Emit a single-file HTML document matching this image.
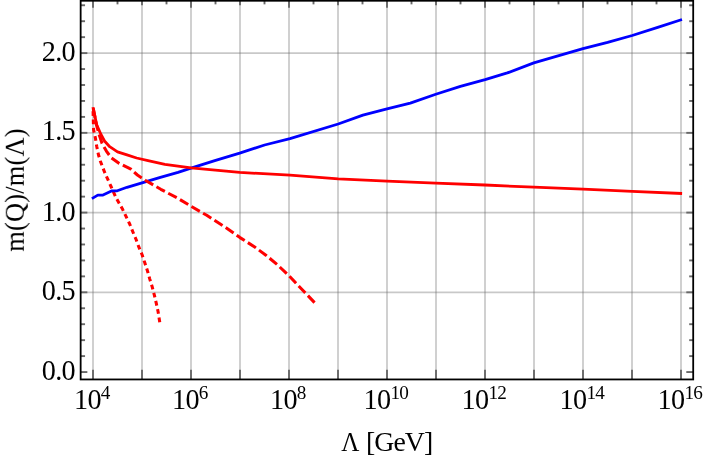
<!DOCTYPE html>
<html><head><meta charset="utf-8"><title>plot</title>
<style>
html,body{margin:0;padding:0;background:#fff;}
body{width:706px;height:461px;overflow:hidden;}
svg{display:block;}
text{font-family:"Liberation Serif",serif;fill:#000;}
</style></head><body>
<svg width="706" height="461" viewBox="0 0 706 461">
<rect width="706" height="461" fill="#fff"/>
<g stroke="#666666" stroke-opacity="0.355" stroke-width="1.7" fill="none">
<line x1="93.00" y1="0.75" x2="93.00" y2="379.45"/>
<line x1="142.00" y1="0.75" x2="142.00" y2="379.45"/>
<line x1="191.00" y1="0.75" x2="191.00" y2="379.45"/>
<line x1="240.00" y1="0.75" x2="240.00" y2="379.45"/>
<line x1="289.00" y1="0.75" x2="289.00" y2="379.45"/>
<line x1="338.00" y1="0.75" x2="338.00" y2="379.45"/>
<line x1="387.00" y1="0.75" x2="387.00" y2="379.45"/>
<line x1="436.00" y1="0.75" x2="436.00" y2="379.45"/>
<line x1="485.00" y1="0.75" x2="485.00" y2="379.45"/>
<line x1="534.00" y1="0.75" x2="534.00" y2="379.45"/>
<line x1="583.00" y1="0.75" x2="583.00" y2="379.45"/>
<line x1="632.00" y1="0.75" x2="632.00" y2="379.45"/>
<line x1="681.00" y1="0.75" x2="681.00" y2="379.45"/>
<line x1="80.65" y1="292.31" x2="693.20" y2="292.31"/>
<line x1="80.65" y1="212.58" x2="693.20" y2="212.58"/>
<line x1="80.65" y1="132.85" x2="693.20" y2="132.85"/>
<line x1="80.65" y1="53.11" x2="693.20" y2="53.11"/>
</g>
<g stroke="#686868" stroke-width="1.9" fill="none">
<line x1="93.00" y1="379.45" x2="93.00" y2="369.85"/>
<line x1="93.00" y1="0.75" x2="93.00" y2="7.75"/>
<line x1="117.50" y1="0.75" x2="117.50" y2="4.35"/>
<line x1="142.00" y1="379.45" x2="142.00" y2="369.85"/>
<line x1="142.00" y1="0.75" x2="142.00" y2="5.15"/>
<line x1="166.50" y1="0.75" x2="166.50" y2="4.35"/>
<line x1="191.00" y1="379.45" x2="191.00" y2="369.85"/>
<line x1="191.00" y1="0.75" x2="191.00" y2="7.75"/>
<line x1="215.50" y1="0.75" x2="215.50" y2="4.35"/>
<line x1="240.00" y1="379.45" x2="240.00" y2="369.85"/>
<line x1="240.00" y1="0.75" x2="240.00" y2="5.15"/>
<line x1="264.50" y1="0.75" x2="264.50" y2="4.35"/>
<line x1="289.00" y1="379.45" x2="289.00" y2="369.85"/>
<line x1="289.00" y1="0.75" x2="289.00" y2="7.75"/>
<line x1="313.50" y1="0.75" x2="313.50" y2="4.35"/>
<line x1="338.00" y1="379.45" x2="338.00" y2="369.85"/>
<line x1="338.00" y1="0.75" x2="338.00" y2="5.15"/>
<line x1="362.50" y1="0.75" x2="362.50" y2="4.35"/>
<line x1="387.00" y1="379.45" x2="387.00" y2="369.85"/>
<line x1="387.00" y1="0.75" x2="387.00" y2="7.75"/>
<line x1="411.50" y1="0.75" x2="411.50" y2="4.35"/>
<line x1="436.00" y1="379.45" x2="436.00" y2="369.85"/>
<line x1="436.00" y1="0.75" x2="436.00" y2="5.15"/>
<line x1="460.50" y1="0.75" x2="460.50" y2="4.35"/>
<line x1="485.00" y1="379.45" x2="485.00" y2="369.85"/>
<line x1="485.00" y1="0.75" x2="485.00" y2="7.75"/>
<line x1="509.50" y1="0.75" x2="509.50" y2="4.35"/>
<line x1="534.00" y1="379.45" x2="534.00" y2="369.85"/>
<line x1="534.00" y1="0.75" x2="534.00" y2="5.15"/>
<line x1="558.50" y1="0.75" x2="558.50" y2="4.35"/>
<line x1="583.00" y1="379.45" x2="583.00" y2="369.85"/>
<line x1="583.00" y1="0.75" x2="583.00" y2="7.75"/>
<line x1="607.50" y1="0.75" x2="607.50" y2="4.35"/>
<line x1="632.00" y1="379.45" x2="632.00" y2="369.85"/>
<line x1="632.00" y1="0.75" x2="632.00" y2="5.15"/>
<line x1="656.50" y1="0.75" x2="656.50" y2="4.35"/>
<line x1="681.00" y1="379.45" x2="681.00" y2="369.85"/>
<line x1="681.00" y1="0.75" x2="681.00" y2="7.75"/>
<line x1="80.65" y1="372.05" x2="87.35" y2="372.05"/>
<line x1="693.20" y1="372.05" x2="686.30" y2="372.05"/>
<line x1="80.65" y1="356.10" x2="85.05" y2="356.10"/>
<line x1="693.20" y1="356.10" x2="689.20" y2="356.10"/>
<line x1="80.65" y1="340.16" x2="85.05" y2="340.16"/>
<line x1="693.20" y1="340.16" x2="689.20" y2="340.16"/>
<line x1="80.65" y1="324.21" x2="85.05" y2="324.21"/>
<line x1="693.20" y1="324.21" x2="689.20" y2="324.21"/>
<line x1="80.65" y1="308.26" x2="85.05" y2="308.26"/>
<line x1="693.20" y1="308.26" x2="689.20" y2="308.26"/>
<line x1="80.65" y1="292.31" x2="87.35" y2="292.31"/>
<line x1="693.20" y1="292.31" x2="686.30" y2="292.31"/>
<line x1="80.65" y1="276.37" x2="85.05" y2="276.37"/>
<line x1="693.20" y1="276.37" x2="689.20" y2="276.37"/>
<line x1="80.65" y1="260.42" x2="85.05" y2="260.42"/>
<line x1="693.20" y1="260.42" x2="689.20" y2="260.42"/>
<line x1="80.65" y1="244.47" x2="85.05" y2="244.47"/>
<line x1="693.20" y1="244.47" x2="689.20" y2="244.47"/>
<line x1="80.65" y1="228.53" x2="85.05" y2="228.53"/>
<line x1="693.20" y1="228.53" x2="689.20" y2="228.53"/>
<line x1="80.65" y1="212.58" x2="87.35" y2="212.58"/>
<line x1="693.20" y1="212.58" x2="686.30" y2="212.58"/>
<line x1="80.65" y1="196.63" x2="85.05" y2="196.63"/>
<line x1="693.20" y1="196.63" x2="689.20" y2="196.63"/>
<line x1="80.65" y1="180.69" x2="85.05" y2="180.69"/>
<line x1="693.20" y1="180.69" x2="689.20" y2="180.69"/>
<line x1="80.65" y1="164.74" x2="85.05" y2="164.74"/>
<line x1="693.20" y1="164.74" x2="689.20" y2="164.74"/>
<line x1="80.65" y1="148.79" x2="85.05" y2="148.79"/>
<line x1="693.20" y1="148.79" x2="689.20" y2="148.79"/>
<line x1="80.65" y1="132.85" x2="87.35" y2="132.85"/>
<line x1="693.20" y1="132.85" x2="686.30" y2="132.85"/>
<line x1="80.65" y1="116.90" x2="85.05" y2="116.90"/>
<line x1="693.20" y1="116.90" x2="689.20" y2="116.90"/>
<line x1="80.65" y1="100.95" x2="85.05" y2="100.95"/>
<line x1="693.20" y1="100.95" x2="689.20" y2="100.95"/>
<line x1="80.65" y1="85.00" x2="85.05" y2="85.00"/>
<line x1="693.20" y1="85.00" x2="689.20" y2="85.00"/>
<line x1="80.65" y1="69.06" x2="85.05" y2="69.06"/>
<line x1="693.20" y1="69.06" x2="689.20" y2="69.06"/>
<line x1="80.65" y1="53.11" x2="87.35" y2="53.11"/>
<line x1="693.20" y1="53.11" x2="686.30" y2="53.11"/>
<line x1="80.65" y1="37.16" x2="85.05" y2="37.16"/>
<line x1="693.20" y1="37.16" x2="689.20" y2="37.16"/>
<line x1="80.65" y1="21.22" x2="85.05" y2="21.22"/>
<line x1="693.20" y1="21.22" x2="689.20" y2="21.22"/>
<line x1="80.65" y1="5.27" x2="85.05" y2="5.27"/>
<line x1="693.20" y1="5.27" x2="689.20" y2="5.27"/>
</g>
<g fill="none" stroke-width="2.8" stroke-linejoin="round">
<path d="M93.0 107.2 L93.3 120.0 L93.6 129.8 L95.4 138.0 L96.7 146.2 L98.4 154.5 L100.4 161.3 L104.9 173.0 L110.8 186.0 L116.0 197.7 L122.3 208.7 L125.9 216.2 L129.7 224.0 L132.8 231.7 L136.1 239.5 L138.9 247.2 L142.2 255.0 L144.8 262.8 L147.5 271.0 L149.8 279.1 L152.2 286.8 L154.3 294.9 L156.3 303.4 L158.1 311.7 L159.8 322.4" stroke="#ff0000" stroke-width="3.05" stroke-dasharray="4.8 3.6" stroke-dashoffset="4.5"/>
<path d="M91.9 198.6 L97.8 195.1 L103.0 195.1 L112.0 190.8 L117.3 190.8 L127.0 187.3 L142.0 182.8 L159.5 177.6 L178.0 172.4 L191.0 168.1 L214.8 160.6 L239.7 153.2 L264.6 145.0 L290.0 138.6 L338.2 124.0 L362.9 115.1 L387.0 108.9 L410.3 103.1 L435.8 94.3 L460.4 86.4 L485.1 79.6 L507.3 72.9 L533.8 62.9 L583.0 48.7 L607.6 42.4 L632.2 35.5 L657.7 27.3 L682.0 19.5" stroke="#0000ff"/>
<path d="M93.0 107.2 L96.8 125.0 L101.0 134.5 L104.5 141.0 L109.7 146.7 L117.5 151.9 L127.0 154.9 L136.6 158.0 L148.0 160.6 L164.9 164.4 L191.0 167.8 L239.7 172.4 L290.0 175.2 L338.2 178.8 L387.0 181.1 L435.7 183.2 L484.8 185.0 L533.8 187.2 L583.0 189.1 L632.2 191.3 L682.1 193.5" stroke="#ff0000"/>
<path d="M93.0 107.2 L96.5 125.0 L99.6 136.1 L102.1 143.4 L106.4 151.1 L111.2 157.7 L119.3 163.4 L130.9 169.1 L137.4 175.0 L145.2 180.2 L160.8 189.3 L178.0 198.4 L190.6 206.0 L206.7 215.3 L226.4 228.0 L240.0 237.6 L254.7 247.0 L265.9 255.2 L277.2 264.6 L289.3 276.0 L303.0 290.5 L315.5 303.6" stroke="#ff0000" stroke-width="3.05" stroke-dasharray="9.6 3.8" stroke-dashoffset="-1.2"/>
</g>
<rect x="80.65" y="0.75" width="612.55" height="378.70" fill="none" stroke="#000" stroke-width="1.8"/>
<g opacity="0.999">
<text transform="translate(75.0,379.80) scale(1,1.045)" font-size="28.2" letter-spacing="-0.7" text-anchor="end">0.0</text>
<text transform="translate(75.0,300.26) scale(1,1.045)" font-size="28.2" letter-spacing="-0.7" text-anchor="end">0.5</text>
<text transform="translate(75.0,221.03) scale(1,1.045)" font-size="28.2" letter-spacing="-0.7" text-anchor="end">1.0</text>
<text transform="translate(75.0,140.05) scale(1,1.045)" font-size="28.2" letter-spacing="-0.7" text-anchor="end">1.5</text>
<text transform="translate(75.0,61.01) scale(1,1.045)" font-size="28.2" letter-spacing="-0.7" text-anchor="end">2.0</text>
<text transform="translate(74.05,408.8) scale(1,1.045)" font-size="28.2" letter-spacing="-0.7">10</text>
<text x="100.85" y="399.2" font-size="19.2" letter-spacing="-0.7">4</text>
<text transform="translate(172.05,408.8) scale(1,1.045)" font-size="28.2" letter-spacing="-0.7">10</text>
<text x="198.85" y="399.2" font-size="19.2" letter-spacing="-0.7">6</text>
<text transform="translate(270.05,408.8) scale(1,1.045)" font-size="28.2" letter-spacing="-0.7">10</text>
<text x="296.85" y="399.2" font-size="19.2" letter-spacing="-0.7">8</text>
<text transform="translate(363.60,408.8) scale(1,1.045)" font-size="28.2" letter-spacing="-0.7">10</text>
<text x="390.40" y="399.2" font-size="19.2" letter-spacing="-0.7">10</text>
<text transform="translate(461.60,408.8) scale(1,1.045)" font-size="28.2" letter-spacing="-0.7">10</text>
<text x="488.40" y="399.2" font-size="19.2" letter-spacing="-0.7">12</text>
<text transform="translate(559.60,408.8) scale(1,1.045)" font-size="28.2" letter-spacing="-0.7">10</text>
<text x="586.40" y="399.2" font-size="19.2" letter-spacing="-0.7">14</text>
<text transform="translate(657.60,408.8) scale(1,1.045)" font-size="28.2" letter-spacing="-0.7">10</text>
<text x="684.40" y="399.2" font-size="19.2" letter-spacing="-0.7">16</text>
<text transform="translate(341.2,450.8) scale(0.9,1)" font-size="27.8">&#923;</text>
<text x="432.3" y="450.8" font-size="27.8" letter-spacing="-0.95" text-anchor="end">[GeV]</text>
<text transform="translate(23.8,190.0) rotate(-90)" font-size="26.4" letter-spacing="0.22" text-anchor="middle">m(Q)/m(&#923;)</text>
</g>
</svg>
</body></html>
